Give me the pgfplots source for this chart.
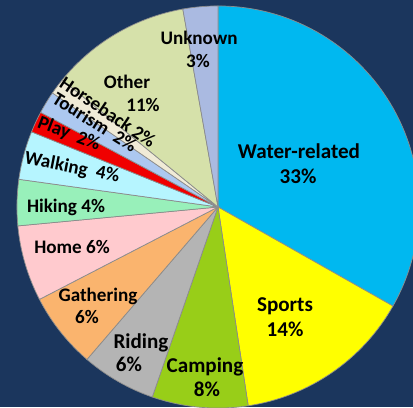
\documentclass[border=0pt]{standalone}
\usepackage{pgfplots}
\pgfplotsset{compat=1.18}
\usepackage{pgfplotstable}
\usepackage{fontspec}
\setmainfont{Carlito}

\definecolor{bg}{RGB}{27,54,93}
\definecolor{cwater}{RGB}{0,184,240}
\definecolor{csports}{RGB}{255,255,0}
\definecolor{ccamping}{RGB}{152,206,24}
\definecolor{criding}{RGB}{180,180,180}
\definecolor{cgather}{RGB}{250,180,110}
\definecolor{chome}{RGB}{255,202,206}
\definecolor{chiking}{RGB}{152,240,186}
\definecolor{cwalking}{RGB}{182,245,255}
\definecolor{cplay}{RGB}{240,0,0}
\definecolor{ctourism}{RGB}{172,200,240}
\definecolor{chorse}{RGB}{240,235,215}
\definecolor{cother}{RGB}{214,225,170}
\definecolor{cunknown}{RGB}{170,186,225}

% share in percent, clockwise from 12 o'clock
\pgfplotstableread{
name       value col
Water      33.2  cwater
Sports     14.4  csports
Camping    7.7   ccamping
Riding     6.0   criding
Gathering  6.1   cgather
Home       6.1   chome
Hiking     3.7   chiking
Walking    3.9   cwalking
Play       1.7   cplay
Tourism    1.8   ctourism
Horseback  1.3   chorse
Other      11.3  cother
Unknown    2.8   cunknown
}\piedata

\begin{document}
\begin{tikzpicture}[
  lbl/.style={font=\bfseries\fontsize{13.6}{16}\selectfont, text=black, inner sep=0pt},
  big/.style={font=\bfseries\fontsize{15}{18}\selectfont, text=black, inner sep=0pt},
]
\begin{axis}[
  x=0.025cm, y=0.025cm,
  xmin=0, xmax=413, ymin=0, ymax=407,
  y dir=reverse,
  hide axis,
]
\fill[bg] (axis cs:0,0) rectangle (axis cs:413,407);

\pgfplotstablegetrowsof{\piedata}
\pgfmathtruncatemacro\nrows{\pgfplotsretval-1}
\def\angA{90}
\pgfplotsforeachungrouped \i in {0,...,\nrows}{
  \pgfplotstablegetelem{\i}{value}\of\piedata \let\val\pgfplotsretval
  \pgfplotstablegetelem{\i}{col}\of\piedata \let\col\pgfplotsretval
  \pgfmathsetmacro\angB{\angA-3.6*\val}
  \edef\temp{\noexpand\filldraw[fill=\col, draw=black!45, line width=0.5pt]
    (axis cs:218,207) -- ++(\angA:5.025cm)
    arc[start angle=\angA, end angle=\angB, radius=5.025cm] -- cycle;}
  \temp
  \global\let\angA\angB
}

% labels
\node[big, anchor=base] at (axis cs:299,158) {Water-related};
\node[big, anchor=base] at (axis cs:298,183) {33\%};
\node[big, anchor=base] at (axis cs:285,311) {Sports};
\node[big, anchor=base] at (axis cs:285,336) {14\%};
\node[big, anchor=base] at (axis cs:205,372) {Camping};
\node[big, anchor=base] at (axis cs:207,396) {8\%};
\node[big, anchor=base] at (axis cs:141,348) {Riding};
\node[big, anchor=base] at (axis cs:129,371) {6\%};
\node[lbl, anchor=base] at (axis cs:98,301) {Gathering};
\node[lbl, anchor=base] at (axis cs:87,323) {6\%};
\node[lbl, anchor=base] at (axis cs:72,253) {Home 6\%};
\node[lbl, anchor=base] at (axis cs:66,212) {Hiking 4\%};
\node[lbl, rotate=-11] at (axis cs:72,168) {Walking~ 4\%};
\node[lbl, rotate=-21] at (axis cs:69,134) {Play~ 2\%};
\node[lbl, rotate=-32] at (axis cs:95,122) {Tourism~ 2\%};
\node[lbl, rotate=-34] at (axis cs:108,112) {Horseback 2\%};
\node[lbl, anchor=base] at (axis cs:127,88) {Other};
\node[lbl, anchor=base] at (axis cs:143,111) {11\%};
\node[lbl, anchor=base] at (axis cs:199,45) {Unknown};
\node[lbl, anchor=base] at (axis cs:198,68) {3\%};
\end{axis}
\pgfresetboundingbox
\path[use as bounding box] (current axis.south west) rectangle (current axis.north east);
\end{tikzpicture}
\end{document}
